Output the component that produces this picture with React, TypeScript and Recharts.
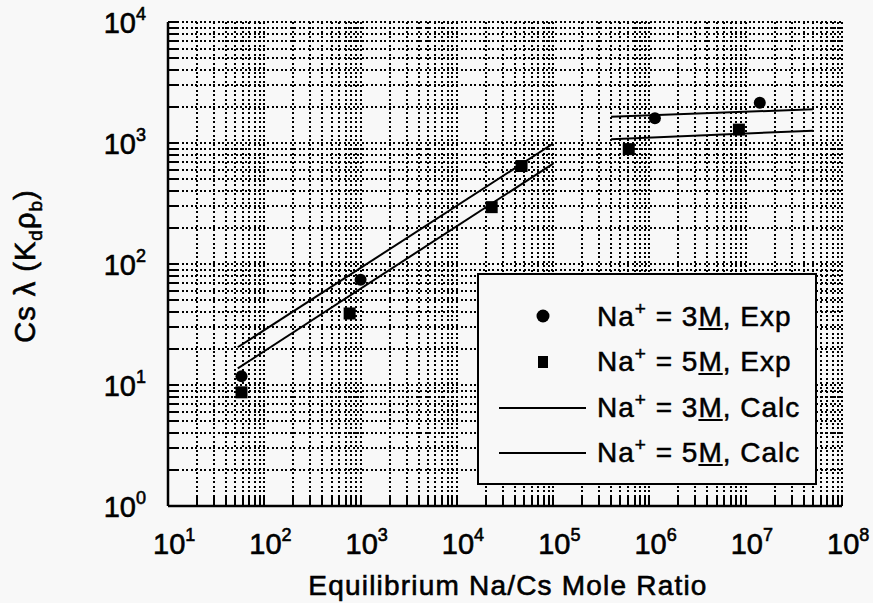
import {
  CartesianGrid,
  ComposedChart,
  Label,
  Legend,
  Line,
  Scatter,
  XAxis,
  YAxis,
} from 'recharts';

const FONT = '"Liberation Sans", Arial, Helvetica, sans-serif';
const BG = '#f8f8f8';

// decades on each axis (labelled as 10^n), minor grid at 2..9 x decade
const xDecades = [1e1, 1e2, 1e3, 1e4, 1e5, 1e6, 1e7, 1e8];
const yDecades = [1e0, 1e1, 1e2, 1e3, 1e4];
const minorSteps = [2, 3, 4, 5, 6, 7, 8, 9];

// Na+ = 3M, experimental (circles)
const exp3Mx = [58, 1000, 1.14e6, 1.4e7];
const exp3My = [11.8, 74, 1600, 2150];

// Na+ = 5M, experimental (squares)
const exp5Mx = [58, 770, 2.3e4, 4.7e4, 6.1e5, 8.5e6];
const exp5My = [8.7, 39, 295, 645, 890, 1290];

// calculated curves, two segments each
const calc3MLowX = [53, 1e5];
const calc3MLowY = [20.5, 990];
const calc3MHighX = [4e5, 5e7];
const calc3MHighY = [1650, 1900];
const calc5MLowX = [53, 1e5];
const calc5MLowY = [13.7, 675];
const calc5MHighX = [4e5, 5e7];
const calc5MHighY = [1075, 1265];

const legendRows = [
  { conc: '3', kind: 'Exp', mark: 'circle' },
  { conc: '5', kind: 'Exp', mark: 'square' },
  { conc: '3', kind: 'Calc', mark: 'line' },
  { conc: '5', kind: 'Calc', mark: 'line' },
];

const withMinors = (decades: number[]) =>
  decades.flatMap((d, i) =>
    i === decades.length - 1 ? [d] : [d, ...minorSteps.map((m) => d * m)],
  );

const pts = (xs: number[], ys: number[]) => xs.map((x, i) => ({ x, y: ys[i] }));

const xTicks = withMinors(xDecades);
const yTicks = withMinors(yDecades);

const TICK = 9;
// scanned print looks heavy, so text gets a thin outline
const BOLDEN = { stroke: '#000', strokeWidth: 0.6 };

function makeTick(side: 'bottom' | 'top' | 'left' | 'right', decades: number[]) {
  return (props: any) => {
    const { x, y, payload } = props;
    const v = payload.value;
    const major = decades.includes(v);
    const exp = Math.round(Math.log10(v));
    let mark;
    if (side === 'bottom') mark = <line x1={x} x2={x} y1={y} y2={y - TICK} />;
    else if (side === 'top') mark = <line x1={x} x2={x} y1={y} y2={y + TICK} />;
    else if (side === 'left') mark = <line x1={x} x2={x + TICK} y1={y} y2={y} />;
    else mark = <line x1={x} x2={x - TICK} y1={y} y2={y} />;

    let label = null;
    if (major && side === 'bottom') {
      label = (
        <text x={x - 15} y={y + 48} fontSize={29} fontFamily={FONT} fill="#000" {...BOLDEN}>
          10
          <tspan dy={-13} fontSize={18}>
            {exp}
          </tspan>
        </text>
      );
    }
    if (major && side === 'left') {
      label = (
        <text
          x={x - 22}
          y={y + 11}
          fontSize={29}
          fontFamily={FONT}
          textAnchor="end"
          fill="#000"
          {...BOLDEN}
        >
          10
          <tspan dy={-13} fontSize={18}>
            {exp}
          </tspan>
        </text>
      );
    }
    return (
      <g>
        <g stroke="#000" strokeWidth={2} shapeRendering="crispEdges">
          {mark}
        </g>
        {label}
      </g>
    );
  };
}

function XTitle(props: any) {
  const vb = props.viewBox;
  return (
    <text
      x={vb.x + vb.width / 2 + 3}
      y={vb.y + 89}
      textAnchor="middle"
      fontSize={28}
      letterSpacing={1.2}
      fontFamily={FONT}
      fill="#000"
      {...BOLDEN}
    >
      Equilibrium Na/Cs Mole Ratio
    </text>
  );
}

function YTitle(props: any) {
  const vb = props.viewBox;
  const cx = 35;
  const cy = vb.y + vb.height / 2 + 2;
  return (
    <text
      x={cx}
      y={cy}
      transform={`rotate(-90 ${cx} ${cy})`}
      textAnchor="middle"
      fontSize={29}
      letterSpacing={1}
      fontFamily={FONT}
      fill="#000"
      {...BOLDEN}
    >
      Cs λ (K
      <tspan dy={7} fontSize={19}>
        d
      </tspan>
      <tspan dy={-7} fontSize={29}>
        ρ
      </tspan>
      <tspan dy={7} fontSize={19}>
        b
      </tspan>
      <tspan dy={-7} fontSize={29}>
        )
      </tspan>
    </text>
  );
}

const circleShape = (p: any) => <circle cx={p.cx} cy={p.cy} r={6} fill="#000" />;
const squareShape = (p: any) => (
  <rect x={p.cx - 6} y={p.cy - 6} width={12} height={12} fill="#000" />
);

function LegendBox() {
  return (
    <div
      style={{
        boxSizing: 'border-box',
        width: 340,
        height: 212,
        border: '2px solid #000',
        background: BG,
        paddingTop: 19,
        fontFamily: FONT,
        fontSize: 28,
        letterSpacing: 1,
        color: '#000',
        WebkitTextStroke: '0.5px #000',
      }}
    >
      {legendRows.map((r, i) => (
        <div key={i} style={{ display: 'flex', alignItems: 'center', height: 45.5 }}>
          <svg width={118} height={30} style={{ flex: 'none' }}>
            {r.mark === 'circle' ? <circle cx={64} cy={14} r={6.5} fill="#000" /> : null}
            {r.mark === 'square' ? <rect x={59} y={9} width={10} height={12} fill="#000" /> : null}
            {r.mark === 'line' ? (
              <line x1={20} x2={107} y1={15} y2={15} stroke="#000" strokeWidth={2} />
            ) : null}
          </svg>
          <span style={{ whiteSpace: 'nowrap' }}>
            Na<span style={{ fontSize: 19, position: 'relative', top: -11 }}>+</span> = {r.conc}
            <span style={{ textDecoration: 'underline' }}>M</span>, {r.kind}
          </span>
        </div>
      ))}
    </div>
  );
}

export default function App() {
  return (
    <div style={{ width: 873, height: 603, background: BG, position: 'relative' }}>
      <style>{`body{margin:0;background:${BG}}`}</style>
      <ComposedChart
        width={873}
        height={603}
        margin={{ top: 22, right: 31, bottom: 0, left: 0 }}
      >
        <CartesianGrid
          stroke="#000"
          strokeDasharray="2 2.5"
          strokeWidth={2}
          shapeRendering="crispEdges"
        />
        <XAxis
          dataKey="x"
          type="number"
          scale="log"
          domain={[10, 1e8]}
          allowDataOverflow
          ticks={xTicks}
          interval={0}
          height={97}
          tickSize={0}
          tickMargin={0}
          tickLine={false}
          tick={makeTick('bottom', xDecades)}
          axisLine={{ stroke: '#000', strokeWidth: 2.5 }}
        >
          <Label content={XTitle} />
        </XAxis>
        <XAxis
          xAxisId="top"
          orientation="top"
          type="number"
          scale="log"
          domain={[10, 1e8]}
          allowDataOverflow
          ticks={xTicks}
          interval={0}
          height={0}
          tickSize={0}
          tickMargin={0}
          tickLine={false}
          tick={makeTick('top', xDecades)}
          axisLine={{ stroke: '#000', strokeWidth: 2.5 }}
        />
        <YAxis
          dataKey="y"
          type="number"
          scale="log"
          domain={[1, 1e4]}
          allowDataOverflow
          ticks={yTicks}
          interval={0}
          width={168}
          tickSize={0}
          tickMargin={0}
          tickLine={false}
          tick={makeTick('left', yDecades)}
          axisLine={{ stroke: '#000', strokeWidth: 2.5 }}
        >
          <Label content={YTitle} />
        </YAxis>
        <YAxis
          yAxisId="right"
          orientation="right"
          type="number"
          scale="log"
          domain={[1, 1e4]}
          allowDataOverflow
          ticks={yTicks}
          interval={0}
          width={0}
          tickSize={0}
          tickMargin={0}
          tickLine={false}
          tick={makeTick('right', yDecades)}
          axisLine={{ stroke: '#000', strokeWidth: 2.5 }}
        />
        <Line data={pts(calc3MLowX, calc3MLowY)} dataKey="y" stroke="#000" strokeWidth={2} dot={false} isAnimationActive={false} />
        <Line data={pts(calc5MLowX, calc5MLowY)} dataKey="y" stroke="#000" strokeWidth={2} dot={false} isAnimationActive={false} />
        <Line data={pts(calc3MHighX, calc3MHighY)} dataKey="y" stroke="#000" strokeWidth={2} dot={false} isAnimationActive={false} />
        <Line data={pts(calc5MHighX, calc5MHighY)} dataKey="y" stroke="#000" strokeWidth={2} dot={false} isAnimationActive={false} />
        <Scatter data={pts(exp3Mx, exp3My)} dataKey="y" shape={circleShape} isAnimationActive={false} />
        <Scatter data={pts(exp5Mx, exp5My)} dataKey="y" shape={squareShape} isAnimationActive={false} />
        <Legend
          layout="vertical"
          align="center"
          verticalAlign="middle"
          content={LegendBox}
          wrapperStyle={{ left: 477, top: 273, width: 340, height: 212 }}
        />
      </ComposedChart>
    </div>
  );
}
